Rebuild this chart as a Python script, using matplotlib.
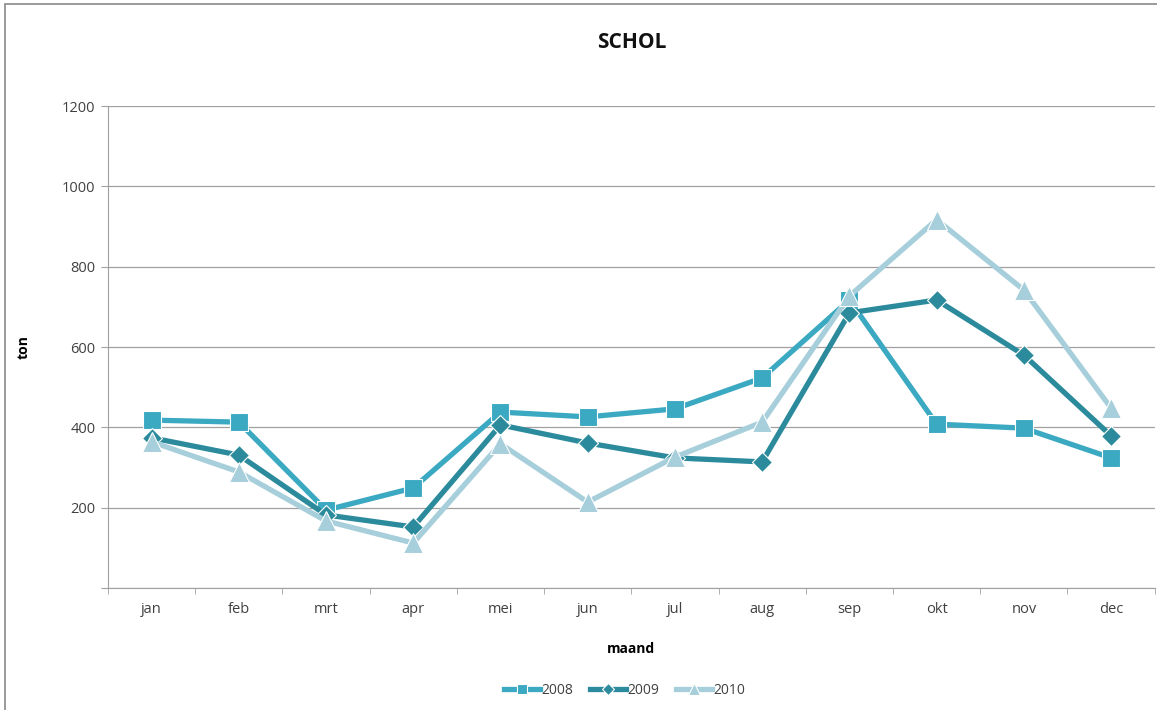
import matplotlib
matplotlib.use("Agg")
import matplotlib.pyplot as plt
from matplotlib.patches import Rectangle

plt.rcParams["font.family"] = ["Open Sans", "DejaVu Sans"]

months = ["jan", "feb", "mrt", "apr", "mei", "jun", "jul", "aug", "sep", "okt", "nov", "dec"]
ton_2008 = [418, 413, 194, 249, 438, 426, 446, 523, 717, 408, 398, 324]
ton_2009 = [374, 331, 182, 152, 406, 361, 324, 314, 685, 717, 580, 379]
ton_2010 = [364, 289, 167, 112, 359, 214, 326, 413, 727, 917, 742, 448]
y_ticks = [0, 200, 400, 600, 800, 1000, 1200]
y_tick_labels = ["", "200", "400", "600", "800", "1000", "1200"]

fig = plt.figure(figsize=(11.57, 7.1), dpi=100)
ax = fig.add_axes([0.0933, 0.1718, 0.9047, 0.6789])

# chart border (left and top edges visible in the reference)
fig.patches.append(Rectangle((0.004, -0.01), 1.1, 1.004, transform=fig.transFigure,
                             fill=False, edgecolor="#8a8a8a", linewidth=1.2))

x = list(range(len(months)))
series = [
    ("2008", ton_2008, "#3aa9c1", "s", 13),
    ("2009", ton_2009, "#2b8a9c", "D", 10),
    ("2010", ton_2010, "#a6cedb", "^", 14),
]
for label, vals, color, marker, ms in series:
    ax.plot(x, vals, color=color, linewidth=3.8, marker=marker, markersize=ms,
            markerfacecolor=color, markeredgecolor="#ffffff", markeredgewidth=0.8,
            label=label, zorder=3)

ax.set_xlim(-0.5, 11.5)
ax.set_ylim(0, 1200)
ax.set_yticks(y_ticks)
ax.set_yticklabels(y_tick_labels)
ax.set_xticks(x)
ax.set_xticklabels(months)
ax.set_xticks([i - 0.5 for i in range(13)], minor=True)
ax.tick_params(axis="x", which="major", length=0, pad=10, labelsize=10.5, colors="#404040")
ax.tick_params(axis="x", which="minor", length=4, color="#a0a0a0")
ax.tick_params(axis="y", length=5, color="#a0a0a0", labelsize=10.5, labelcolor="#404040", pad=4)
ax.grid(axis="y", color="#a0a0a0", linewidth=0.9, zorder=0)

for side in ("top", "right"):
    ax.spines[side].set_visible(False)
for side in ("left", "bottom"):
    ax.spines[side].set_color("#a0a0a0")

ax.set_title("SCHOL", fontsize=15, fontweight="bold", pad=42, color="#111111")
ax.set_ylabel("ton", fontsize=10, fontweight="bold")
ax.yaxis.set_label_coords(-0.074, 0.5)
ax.set_xlabel("maand", fontsize=10, fontweight="bold", labelpad=18)

leg = fig.legend(loc="lower center", bbox_to_anchor=(0.54, 0.0), ncol=3, frameon=False,
                 fontsize=10, handlelength=2.6, columnspacing=1.2, handletextpad=0.1,
                 markerscale=0.6)
for t in leg.get_texts():
    t.set_color("#404040")

fig.savefig("out.png", dpi=100)
